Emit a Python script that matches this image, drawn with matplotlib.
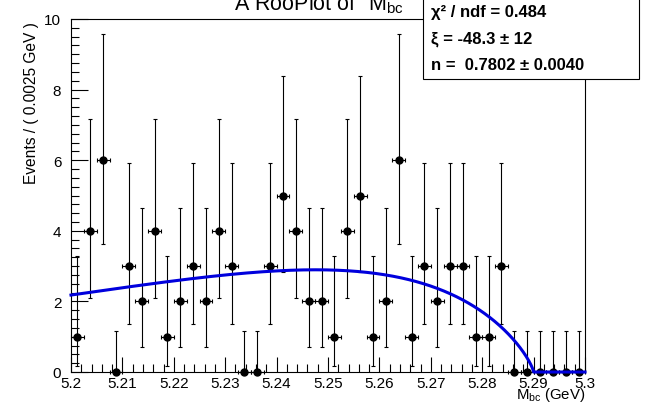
import numpy as np
import matplotlib
matplotlib.use('Agg')
import matplotlib.pyplot as plt
from matplotlib.patches import Rectangle
from matplotlib.ticker import MultipleLocator, FuncFormatter

plt.rcParams['font.family'] = ['Liberation Sans', 'DejaVu Sans']
plt.rcParams['mathtext.fontset'] = 'custom'
plt.rcParams['mathtext.rm'] = 'Liberation Sans'
plt.rcParams['mathtext.it'] = 'Liberation Sans:italic'
plt.rcParams['mathtext.bf'] = 'Liberation Sans:bold'

# ---- data ----
x_min, x_max = 5.20, 5.30
bin_width = 0.0025
counts = [1, 4, 6, 0, 3, 2, 4, 1, 2, 3,
          2, 4, 3, 0, 0, 3, 5, 4, 2, 2,
          1, 4, 5, 1, 2, 6, 1, 3, 2, 3,
          3, 1, 1, 3, 0, 0, 0, 0, 0, 0]
# 68% Poisson confidence intervals (lower, upper) per count
poisson_low = {0: 0.0, 1: 0.1727, 2: 0.7080, 3: 1.3673, 4: 2.0857, 5: 2.8403, 6: 3.6200}
poisson_high = {0: 1.1479, 1: 3.2996, 2: 4.6384, 3: 5.9182, 4: 7.1627, 5: 8.3825, 6: 9.5837}

# ARGUS fit parameters
argus_m0 = 5.29
argus_xi = -48.3
argus_p = 0.7802

title_text = 'A RooPlot of "M$_{\\mathregular{bc}}$"'
stats_lines = ['\u03c7\u00b2 / ndf = 0.484',
               '\u03be = -48.3 \u00b1 12',
               'n =  0.7802 \u00b1 0.0040']

# ---- figure ----
W, H = 645, 406
fig = plt.figure(figsize=(W / 100, H / 100), dpi=100)
ax = fig.add_axes([71 / W, (H - 373) / H, (585 - 71) / W, (373 - 20) / H])

counts_arr = np.array(counts, dtype=float)
centers = x_min + bin_width * (np.arange(len(counts)) + 0.5)
lo = np.array([c - poisson_low[c] for c in counts])
hi = np.array([poisson_high[c] - c for c in counts])

ax.errorbar(centers, counts_arr, yerr=[lo, hi], xerr=bin_width / 2,
            fmt='o', color='black', ms=5, elinewidth=0.8, capsize=1.6,
            capthick=0.8, clip_on=False, zorder=3)

# ARGUS curve
m = np.linspace(x_min, x_max, 2001)
y = np.clip(1 - (m / argus_m0) ** 2, 0, None)
f = np.where(y > 0, m * y ** argus_p * np.exp(argus_xi * y), 0.0)
norm = counts_arr.sum() * bin_width / np.trapezoid(f, m)
ax.plot(m, f * norm, color='#0000dd', lw=2.2, zorder=4, clip_on=False)

ax.set_xlim(x_min, x_max)
ax.set_ylim(0, 10)
ax.xaxis.set_major_locator(MultipleLocator(0.01))
ax.xaxis.set_minor_locator(MultipleLocator(0.002))
ax.yaxis.set_major_locator(MultipleLocator(2))
ax.yaxis.set_minor_locator(MultipleLocator(0.25))
ax.tick_params(axis='both', which='both', direction='in', top=False, right=False, width=0.8)
ax.tick_params(axis='x', which='major', length=11, pad=3, labelsize=11)
ax.tick_params(axis='x', which='minor', length=6)
ax.tick_params(axis='y', which='major', length=12, pad=7, labelsize=11)
ax.tick_params(axis='y', which='minor', length=6)


def xfmt(v, p):
    s = '%.2f' % v
    s = s.rstrip('0')
    if s.endswith('.'):
        s = s + '0'
    return s


ax.xaxis.set_major_formatter(FuncFormatter(xfmt))
ax.yaxis.set_major_formatter(FuncFormatter(lambda v, p: '%d' % round(v)))
for s in ax.spines.values():
    s.set_linewidth(0.8)

# axis titles
fig.text(585 / W, 1 - 395 / H, 'M$_{\\mathregular{bc}}$ (GeV)', ha='right', va='center', fontsize=10.8)
fig.text(32 / W, 1 - 22 / H, 'Events / ( 0.0025 GeV )', rotation=90, ha='center', va='top', fontsize=11.2)

# title (clipped at top)
fig.text(323 / W, 1 - 10 / H, title_text, ha='center', va='baseline', fontsize=15.5)

# stats box
box = Rectangle((423 / W, 1 - 80 / H), (639 - 423) / W, 90 / H, transform=fig.transFigure,
                facecolor='white', edgecolor='black', lw=0.8, zorder=10)
fig.add_artist(box)
for i, line in enumerate(stats_lines):
    fig.text(431 / W, 1 - (13 + 26.5 * i) / H, line, ha='left', va='center',
             fontsize=12, fontweight='bold', zorder=11)

fig.savefig('out.png', dpi=100)
